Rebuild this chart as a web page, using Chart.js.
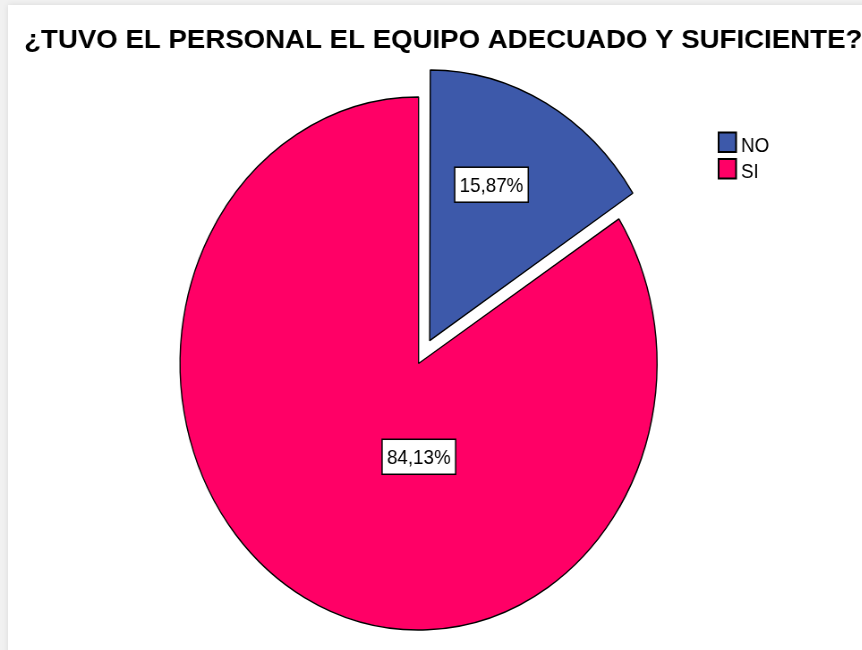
<!DOCTYPE html>
<html>
<head>
<meta charset="utf-8">
<script src="https://cdn.jsdelivr.net/npm/chart.js@4.4.0/dist/chart.umd.min.js"></script>
<style>
    html, body { margin: 0; padding: 0; width: 862px; height: 650px; overflow: hidden; background: #f1f1f1; }
    #marco { position: absolute; left: 8px; top: 5px; width: 900px; height: 700px; background: #fff; box-shadow: 0 0 6px rgba(0,0,0,0.10); }
    #graficoEquipo { position: absolute; left: 0; top: 0; transform: scaleX(0.8949); transform-origin: 0 0; }
</style>
</head>
<body>
<div id="marco"></div>
<canvas id="graficoEquipo" width="963" height="650"></canvas>
<script>
const titulo = "¿TUVO EL PERSONAL EL EQUIPO ADECUADO Y SUFICIENTE?"
const categorias = ["NO", "SI"]
const porcentajes = [15.87, 84.13]
const etiquetas = ["15,87%", "84,13%"]

const colores = ["#3d59aa", "#ff0066"]
// donde va cada etiqueta dentro de su porcion: fraccion del angulo y del radio
const posEtiquetas = [[0.418, 0.64], [0.405, 0.35]]

const tituloPlugin = {
    id: "tituloPlugin",
    afterDraw(chart) {
        const ctx = chart.ctx
        ctx.save()
        ctx.fillStyle = "#000"
        ctx.font = "bold 25px 'Liberation Sans', Arial, sans-serif"
        ctx.textBaseline = "alphabetic"
        ctx.textAlign = "left"
        // el titulo viene mas ancho que el resto del grafico
        ctx.translate(27, 0)
        ctx.scale(1.235, 1)
        ctx.fillText(titulo, 0, 47.5)
        ctx.restore()
    }
}

const leyendaPlugin = {
    id: "leyendaPlugin",
    afterDraw(chart) {
        const ctx = chart.ctx
        ctx.save()
        chart.data.labels.forEach((lbl, i) => {
            const y = 132.5 + i * 26.5
            ctx.fillStyle = chart.data.datasets[0].backgroundColor[i]
            ctx.fillRect(803, y, 19.5, 19.5)
            ctx.lineWidth = 2
            ctx.strokeStyle = "#000"
            ctx.strokeRect(803, y, 19.5, 19.5)
            ctx.fillStyle = "#000"
            ctx.font = "21px 'Liberation Sans', Arial, sans-serif"
            ctx.textBaseline = "alphabetic"
            ctx.fillText(lbl, 828, y + 19.3)
        })
        ctx.restore()
    }
}

const etiquetasPlugin = {
    id: "etiquetasPlugin",
    afterDatasetsDraw(chart) {
        const ctx = chart.ctx
        const arcos = chart.getDatasetMeta(0).data
        ctx.save()
        ctx.font = "21px 'Liberation Sans', Arial, sans-serif"
        ctx.textAlign = "center"
        ctx.textBaseline = "middle"
        arcos.forEach((arco, i) => {
            const desp = (arco.options.offset || 0) / 4
            const medio = (arco.startAngle + arco.endAngle) / 2
            const cx = arco.x + Math.cos(medio) * desp
            const cy = arco.y + Math.sin(medio) * desp
            const ang = arco.startAngle + (arco.endAngle - arco.startAngle) * posEtiquetas[i][0]
            const r = arco.outerRadius * posEtiquetas[i][1]
            const x = cx + Math.cos(ang) * r
            const y = cy + Math.sin(ang) * r
            const texto = etiquetas[i]
            const w = ctx.measureText(texto).width + 11
            const h = 35
            ctx.fillStyle = "#fff"
            ctx.fillRect(x - w / 2, y - h / 2, w, h)
            ctx.lineWidth = 1.5
            ctx.strokeStyle = "#000"
            ctx.strokeRect(x - w / 2, y - h / 2, w, h)
            ctx.fillStyle = "#000"
            ctx.fillText(texto, x, y + 1)
        })
        ctx.restore()
    }
}

new Chart(document.getElementById("graficoEquipo"), {
    type: "pie",
    data: {
        labels: categorias,
        datasets: [{
            data: porcentajes,
            backgroundColor: colores,
            borderColor: "#000",
            borderWidth: 1.4,
            offset: [104, 0]
        }]
    },
    options: {
        responsive: false,
        animation: false,
        radius: 266.5,
        layout: {
            padding: { left: 0, right: 27.6, top: 77, bottom: 0 }
        },
        plugins: {
            legend: { display: false },
            tooltip: { enabled: false }
        }
    },
    plugins: [etiquetasPlugin, leyendaPlugin, tituloPlugin]
})
</script>
</body>
</html>
